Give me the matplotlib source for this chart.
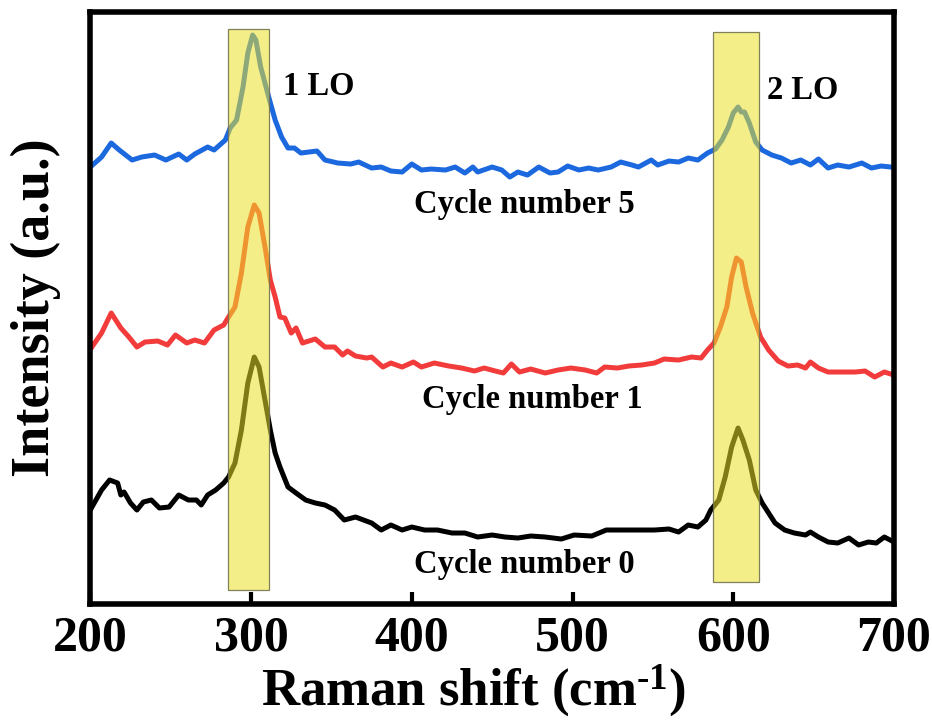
import matplotlib
matplotlib.use("Agg")
import matplotlib.pyplot as plt
from matplotlib.patches import Rectangle

plt.rcParams['font.family'] = ['Liberation Serif', 'DejaVu Serif']
plt.rcParams['font.weight'] = 'bold'
plt.rcParams['mathtext.fontset'] = 'custom'
plt.rcParams['mathtext.rm'] = 'Liberation Serif:bold'
plt.rcParams['mathtext.bf'] = 'Liberation Serif:bold'
plt.rcParams['mathtext.it'] = 'Liberation Serif:bold'

# ---- data (Raman shift in cm^-1, intensity in arbitrary units) ----
x5 = [200, 207, 213, 218, 226, 232, 240, 247, 255, 260, 265, 273, 277, 284, 287, 291, 295, 298, 301, 303,
      306, 311, 315, 319, 323, 327, 331, 341, 346, 354, 362, 367, 375, 381, 387, 394, 400, 406, 412, 421,
      427, 433, 438, 441, 450, 456, 461, 466, 472, 479, 486, 491, 497, 504, 510, 516, 524, 530, 537, 541,
      549, 553, 560, 566, 572, 578, 584, 589, 593, 597, 600, 603, 605, 607, 610, 614, 618, 624, 630, 636,
      642, 648, 653, 659, 665, 672, 680, 686, 692, 698]
y5 = [437, 447, 461, 454, 444, 447, 449, 444, 450, 444, 450, 457, 454, 464, 476, 484, 517, 551, 569, 564,
      537, 507, 484, 467, 456, 456, 451, 453, 444, 441, 440, 442, 436, 437, 433, 432, 440, 434, 435, 434,
      437, 431, 437, 432, 437, 434, 427, 432, 429, 437, 431, 432, 438, 434, 436, 434, 437, 442, 439, 437,
      444, 439, 443, 442, 446, 444, 451, 455, 464, 477, 491, 497, 492, 492, 481, 462, 454, 449, 446, 441,
      444, 439, 445, 436, 439, 437, 441, 436, 438, 437]

x1 = [201, 207, 213, 219, 224, 229, 234, 242, 248, 253, 260, 265, 271, 277, 283, 286, 290, 294, 298, 302,
      305, 309, 312, 315, 318, 321, 325, 328, 332, 340, 346, 352, 357, 360, 365, 372, 375, 382, 387, 394,
      401, 406, 414, 423, 431, 439, 445, 452, 457, 462, 467, 474, 483, 491, 499, 508, 515, 520, 528, 535,
      543, 551, 557, 566, 574, 580, 584, 588, 592, 596, 599, 602, 605, 608, 612, 617, 622, 628, 634, 640,
      645, 648, 653, 659, 667, 676, 682, 688, 694, 700]
y1 = [257, 271, 291, 276, 267, 257, 262, 263, 259, 269, 261, 264, 261, 274, 279, 287, 297, 331, 377, 399,
      391, 354, 324, 307, 287, 286, 271, 276, 261, 265, 257, 257, 249, 253, 248, 246, 247, 237, 241, 237,
      242, 237, 241, 238, 236, 233, 236, 233, 231, 240, 232, 235, 231, 234, 236, 234, 231, 237, 236, 238,
      239, 241, 245, 244, 247, 246, 254, 261, 277, 297, 327, 346, 342, 317, 291, 267, 254, 243, 238, 239,
      236, 242, 236, 232, 232, 232, 233, 227, 232, 229]

x0 = [200, 207, 212, 217, 219, 221, 225, 229, 233, 238, 243, 249, 255, 261, 266, 269, 273, 278, 283, 286,
      290, 294, 298, 302, 305, 309, 312, 315, 318, 323, 328, 334, 340, 346, 352, 358, 365, 375, 381, 387,
      394, 400, 408, 416, 425, 433, 441, 450, 458, 466, 474, 483, 493, 501, 512, 521, 530, 540, 543, 551,
      560, 566, 572, 578, 583, 586, 591, 595, 599, 603, 606, 610, 614, 618, 622, 626, 632, 638, 645, 648,
      653, 659, 665, 672, 678, 684, 689, 694, 700]
y0 = [94, 114, 124, 121, 109, 112, 101, 94, 102, 104, 96, 97, 109, 104, 104, 99, 109, 114, 121, 127,
      141, 174, 221, 247, 237, 201, 174, 151, 137, 117, 111, 104, 101, 99, 94, 84, 87, 81, 74, 79,
      74, 77, 74, 74, 71, 71, 67, 69, 67, 66, 68, 67, 65, 69, 68, 74, 74, 74, 74, 74,
      75, 72, 79, 77, 84, 94, 104, 127, 157, 176, 164, 144, 114, 101, 91, 81, 74, 71, 69, 72,
      67, 62, 61, 66, 59, 62, 61, 67, 62]

bands = [(285.7, 311.2, 14, 575), (587.4, 616.0, 22, 572)]  # (x0, x1, y0, y1)
band_labels = ['1 LO', '2 LO']
band_label_pos = [(320, 518), (621, 514)]
curve_labels = ['Cycle number 5', 'Cycle number 1', 'Cycle number 0']
curve_label_pos = [(470, 400), (475, 205), (470, 40)]
xticks = [200, 300, 400, 500, 600, 700]

# ---- figure ----
fig = plt.figure(figsize=(9.32, 7.2), dpi=100)
ax = fig.add_axes([0.0969, 0.1611, 0.8623, 0.8222])

ax.plot(x5, y5, color='#1C68DE', lw=3.6, zorder=2, solid_joinstyle='round')
ax.plot(x1, y1, color='#F23C3C', lw=3.6, zorder=2, solid_joinstyle='round')
ax.plot(x0, y0, color='black', lw=3.6, zorder=2, solid_joinstyle='round')

for (bx0, bx1, by0, by1) in bands:
    ax.add_patch(Rectangle((bx0, by0), bx1 - bx0, by1 - by0,
                           facecolor=(0.92, 0.88, 0.16, 0.55),
                           edgecolor=(0.45, 0.45, 0.30, 0.9), lw=0.9, zorder=3))

for lab, (tx, ty) in zip(band_labels, band_label_pos):
    ax.text(tx, ty, lab, fontsize=23.5, fontweight='bold', ha='left', va='center', zorder=4)
for lab, (tx, ty) in zip(curve_labels, curve_label_pos):
    ax.text(tx, ty, lab, fontsize=23.5, fontweight='bold', ha='center', va='center', zorder=4)

ax.set_xlim(200, 700)
ax.set_ylim(0, 592)
ax.set_xticks(xticks)
ax.set_xticklabels([str(t) for t in xticks])
ax.set_yticks([])
ax.tick_params(axis='x', direction='in', length=9, width=3, labelsize=36, pad=8,
               top=False, bottom=True)
for lbl in ax.get_xticklabels():
    lbl.set_fontweight('bold')
for s in ax.spines.values():
    s.set_linewidth(4)

ax.set_xlabel(r'Raman shift (cm$^{\text{-}1}$)', fontsize=38, fontweight='bold')
ax.xaxis.set_label_coords(0.476, -0.098)
ax.set_ylabel('Intensity (a.u.)', fontsize=39, fontweight='bold')
ax.yaxis.set_label_coords(-0.036, 0.5)

fig.savefig('out.png', dpi=100, facecolor='white')
